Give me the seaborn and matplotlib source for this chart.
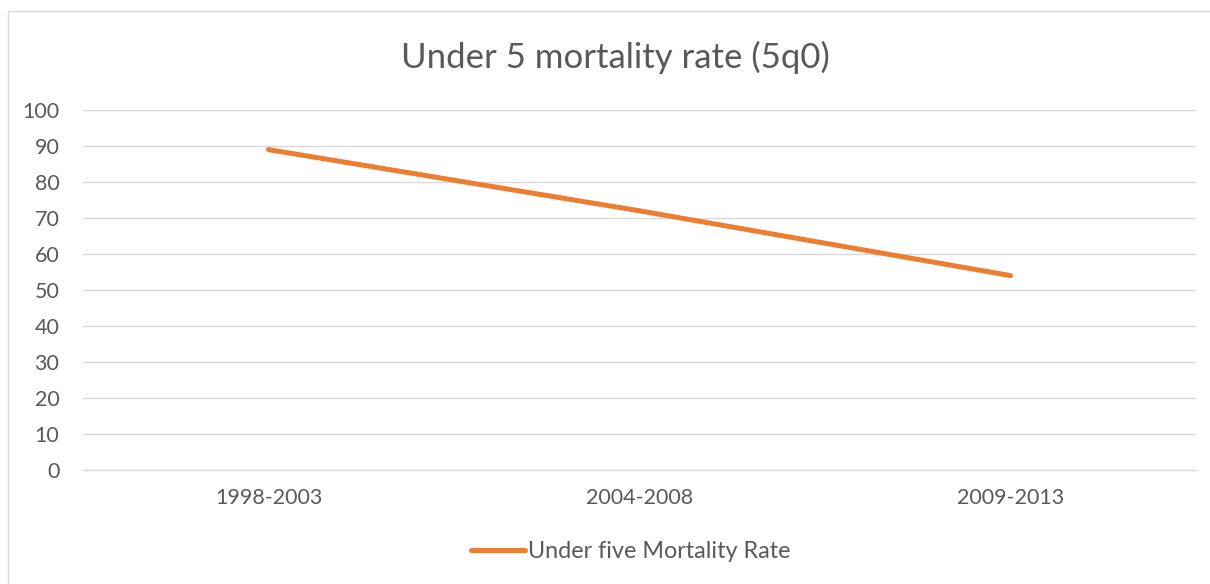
import matplotlib
matplotlib.use("Agg")
import matplotlib.pyplot as plt
import seaborn as sns
import pandas as pd
from matplotlib.patches import Rectangle

periods = ["1998-2003", "2004-2008", "2009-2013"]
under5_rate = [89, 72, 54]
series_name = "Under five Mortality Rate"
title = "Under 5 mortality rate (5q0)"
y_ticks = list(range(0, 101, 10))

sns.set_theme(style="white")
plt.rcParams['font.family'] = ['Lato', 'DejaVu Sans']

df = pd.DataFrame({"period": periods, "rate": under5_rate})

fig = plt.figure(figsize=(12.10, 5.84), dpi=100)
ax = fig.add_axes([83/1210, 1-470/584, (1196-83)/1210, 360/584])

sns.lineplot(data=df, x="period", y="rate", ax=ax, color="#ED7D31",
             linewidth=3.6, solid_capstyle="round", sort=False,
             label=series_name, legend=False)

ax.set_xlim(-0.5, 2.5)
ax.set_ylim(0, 100)
ax.set_yticks(y_ticks)
ax.grid(axis="y", color="#d9d9d9", linewidth=1.0)
ax.set_axisbelow(True)
for s in ["top", "right", "left"]:
    ax.spines[s].set_visible(False)
ax.spines["bottom"].set_color("#d9d9d9")
ax.spines["bottom"].set_linewidth(1.0)
ax.tick_params(axis="both", length=0, labelsize=15.5, colors="#595959")
ax.tick_params(axis="y", pad=17)
ax.tick_params(axis="x", pad=13)
ax.set_xlabel("")
ax.set_ylabel("")

fig.text(615/1210, 1-57/584, title, ha="center", va="center",
         fontsize=25, color="#595959")

handles, labels = ax.get_legend_handles_labels()
fig.legend(handles, labels, loc="center", bbox_to_anchor=(631/1210, 1-552/584),
           frameon=False, fontsize=16.8, labelcolor="#595959",
           handlelength=2.3, handletextpad=0.15)

fig.patches.append(Rectangle((8/1210, -0.1), 1.2, 1-11/584+0.1,
                             transform=fig.transFigure, fill=False,
                             edgecolor="#d9d9d9", linewidth=1.0))

fig.savefig("out.png", dpi=100)
